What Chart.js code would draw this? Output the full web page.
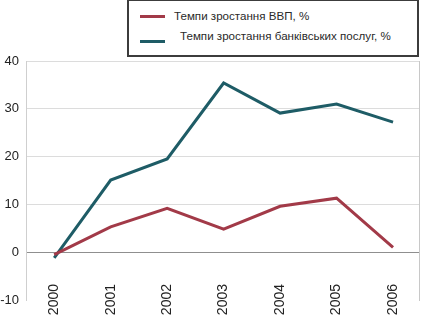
<!DOCTYPE html>
<html>
<head>
<meta charset="utf-8">
<script src="https://cdn.jsdelivr.net/npm/chart.js@4"></script>
<style>
  html, body { margin: 0; padding: 0; background: #fff; }
  #wrap { position: relative; width: 437px; height: 333px; overflow: hidden; }
  #c { position: absolute; left: 0; top: 0; }
  #legend { position: absolute; left: 127px; top: -1px; width: 288px; height: 54px; border: 2px solid #3c3c3c; background: #fff;
            font-family: 'Liberation Sans', Arial, sans-serif; font-size: 11.6px; color: #2a2a2a; }
  .sw { position: absolute; height: 3px; width: 25px; }
  .lt { position: absolute; white-space: nowrap; line-height: 12px; }
</style>
</head>
<body>
<div id="wrap">
  <canvas id="c" width="437" height="333"></canvas>
  <div id="legend">
    <div class="sw" style="left:11px; top:14px; background:#a23a48;"></div>
    <div class="lt" id="l1" style="left:45px; top:9px;"></div>
    <div class="sw" style="left:11px; top:39px; background:#1e5c66;"></div>
    <div class="lt" id="l2" style="left:51px; top:29px;"></div>
  </div>
</div>
<script>
const years = ['2000', '2001', '2002', '2003', '2004', '2005', '2006'];
const gdpGrowth = [-0.5, 5.3, 9.2, 4.8, 9.6, 11.3, 1.0];
const bankGrowth = [-1.2, 15.1, 19.5, 35.4, 29.1, 31.0, 27.2];
const yTicks = [-10, 0, 10, 20, 30, 40];
const seriesNames = ['Темпи зростання ВВП, %', 'Темпи зростання банківських послуг, %'];

document.getElementById('l1').textContent = seriesNames[0];
document.getElementById('l2').textContent = seriesNames[1];

const font = { family: "'Liberation Sans', Arial, sans-serif", size: 13 };
const xFont = { family: "'Liberation Sans', Arial, sans-serif", size: 14 };

new Chart(document.getElementById('c'), {
  type: 'line',
  data: {
    datasets: [
      { label: seriesNames[0], data: years.map((y, i) => ({ x: +y, y: gdpGrowth[i] })),
        borderColor: '#a23a48', borderWidth: 3, pointRadius: 0, tension: 0, fill: false },
      { label: seriesNames[1], data: years.map((y, i) => ({ x: +y, y: bankGrowth[i] })),
        borderColor: '#1e5c66', borderWidth: 3, pointRadius: 0, tension: 0, fill: false }
    ]
  },
  options: {
    responsive: false,
    animation: false,
    layout: { padding: { top: 61, left: 0, right: 0, bottom: 33 } },
    plugins: { legend: { display: false }, tooltip: { enabled: false } },
    scales: {
      x: {
        type: 'linear', min: 1999.5, max: 2006.46,
        position: { y: -10 },
        afterBuildTicks: (ax) => { ax.ticks = years.map(v => ({ value: +v })); },
        grid: { display: false },
        border: { display: false },
        ticks: { font: xFont, color: '#222', minRotation: 90, maxRotation: 90, padding: -24,
                 autoSkip: false, callback: (v) => String(v) }
      },
      y: {
        min: -10, max: 40,
        afterBuildTicks: (ax) => { ax.ticks = yTicks.map(v => ({ value: v })); },
        afterFit: (ax) => { ax.width = 26; },
        grid: { drawTicks: false,
                color: (c) => c.tick && c.tick.value === 0 ? '#8f8f8f' : (c.tick && c.tick.value === -10 ? 'rgba(0,0,0,0)' : '#dcdcdc') },
        border: { display: true, color: '#cfcfcf' },
        ticks: { font, color: '#222', padding: 7, callback: (v) => String(v) }
      },
      y2: {
        position: 'right',
        afterFit: (ax) => { ax.width = 18; },
        grid: { display: false, drawTicks: false },
        border: { display: true, color: '#c8c8c8' },
        ticks: { display: false }
      }
    }
  }
});
</script>
</body>
</html>
